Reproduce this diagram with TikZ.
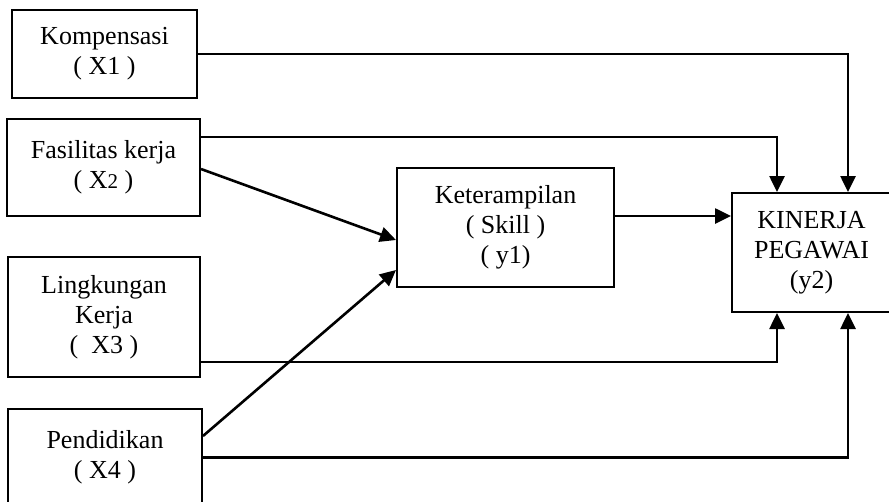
\documentclass[tikz,border=0pt]{standalone}
\usepackage{fontspec}
\setmainfont{Liberation Serif}
\usetikzlibrary{arrows.meta,positioning}
\tikzset{
    %Define standard arrow tip
    >={Triangle[length=16pt,width=15pt]},
    %Define style for boxes
    variabel/.style={
           rectangle,
           draw=black, line width=2pt,
           inner sep=0pt,
           align=center,
           font=\fontsize{26}{30}\selectfont},
    % Define arrow style
    panah/.style={
           ->,
           line width=2.6pt}
}

\begin{document}
\begin{tikzpicture}[x=1pt,y=-1pt]
\useasboundingbox (0,0) rectangle (889,501);

 %nodes
\node[variabel, minimum width=185pt, minimum height=88pt] (x1) at (104.5,54) {Kompensasi\\( X1 )};
\node[variabel, minimum width=193pt, minimum height=97pt] (x2) at (103.5,167.5) {Fasilitas kerja\\( X{\fontsize{21}{24}\selectfont 2} )};
\node[variabel, minimum width=192pt, minimum height=120pt] (x3) at (104,317) {Lingkungan\\Kerja\\(~ X3 )};
\node[variabel, minimum width=194pt, minimum height=97pt] (x4) at (105,457.5) {Pendidikan\\( X4 )};
\node[variabel, minimum width=217pt, minimum height=119pt] (y1) at (505.5,227.5) {Keterampilan\\( Skill )\\( y1)};
\node[variabel, minimum width=159pt, minimum height=119pt] (y2) at (811.5,252.5) {KINERJA\\PEGAWAI\\(y2)};

 %arrows
\draw[panah] (x1.east) -| ([xshift=36.5pt]y2.north);
\draw[panah] ([yshift=30.5pt]x2.east) -| ([xshift=-34.5pt]y2.north);
\draw[panah] ([yshift=-1.5pt]x2.east) -- ([yshift=-12.5pt]y1.west);
\draw[panah] ([yshift=21.5pt]x4.east) -- ([yshift=-42.5pt]y1.west);
\draw[panah] ([yshift=11.5pt]y1.east) -- ([yshift=11.5pt]y1.east -| y2.west);
\draw[panah] ([yshift=-45pt]x3.east) -| ([xshift=-34.5pt]y2.south);
\draw[panah] (x4.east) -| ([xshift=36.5pt]y2.south);

\end{tikzpicture}
\end{document}
